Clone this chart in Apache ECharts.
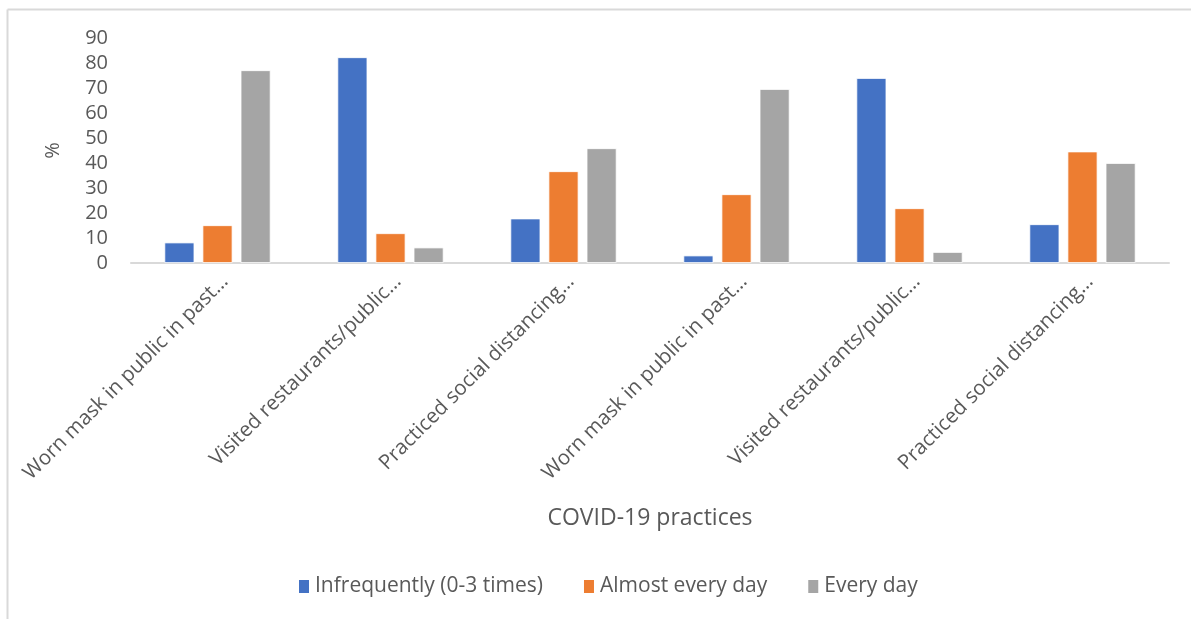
<!DOCTYPE html>
<html>
<head>
<meta charset="utf-8">
<script src="https://cdn.jsdelivr.net/npm/echarts@6/dist/echarts.min.js"></script>
<style>
  html, body { margin: 0; padding: 0; background: #fff; }
  #chart { width: 1191px; height: 619px; }
</style>
</head>
<body>
<div id="chart"></div>
<script>
// Category labels as they appear under the axis (long names are cut short)
const categories = [
  'Worn mask in public in past…',
  'Visited restaurants/public…',
  'Practiced social distancing…',
  'Worn mask in public in past…',
  'Visited restaurants/public…',
  'Practiced social distancing…'
];

// Share of respondents (%) for each frequency band
const infrequently = [8.2, 82.3, 17.8, 3.0, 74.0, 15.5];
const almostEveryDay = [15.1, 11.9, 36.7, 27.5, 21.9, 44.6];
const everyDay = [77.1, 6.2, 45.9, 69.6, 4.4, 40.0];

const seriesNames = ['Infrequently (0-3 times)', 'Almost every day', 'Every day'];
const seriesColors = ['#4472C4', '#ED7D31', '#A5A5A5'];
const yTicks = { min: 0, max: 90, interval: 10 };

const textColor = '#595959';
const fontFamily = '"Open Sans", Lato, sans-serif';

const chart = echarts.init(document.getElementById('chart'), null, { renderer: 'canvas' });

function barSeries(name, values, color) {
  return {
    name: name,
    type: 'bar',
    data: values,
    barWidth: 30,
    barGap: '27%',
    itemStyle: { color: color, borderColor: '#ffffff', borderWidth: 0.8 },
    emphasis: { disabled: true }
  };
}

chart.setOption({
  animation: false,
  backgroundColor: '#ffffff',
  color: seriesColors,
  textStyle: { fontFamily: fontFamily, color: textColor },
  graphic: [
    // chart frame (left and top edges)
    { type: 'line', shape: { x1: 7.5, y1: 9.5, x2: 1191, y2: 9.5 }, style: { stroke: '#d9d9d9', lineWidth: 2 } },
    { type: 'line', shape: { x1: 7.5, y1: 9.5, x2: 7.5, y2: 619 }, style: { stroke: '#d9d9d9', lineWidth: 2 } }
  ],
  grid: { left: 131, right: 22, top: 38, bottom: 356, containLabel: false },
  legend: {
    data: seriesNames,
    top: 571,
    left: 292,
    itemWidth: 12,
    itemHeight: 15,
    itemGap: 39,
    icon: 'rect',
    textStyle: { fontSize: 21, color: textColor, fontFamily: fontFamily }
  },
  xAxis: {
    type: 'category',
    data: categories,
    name: 'COVID-19 practices',
    nameLocation: 'middle',
    nameGap: 244,
    nameTextStyle: { fontSize: 23, color: textColor, fontFamily: fontFamily },
    axisLine: { lineStyle: { color: '#d9d9d9', width: 2 } },
    axisTick: { show: false },
    axisLabel: {
      interval: 0,
      rotate: 45,
      margin: 8,
      verticalAlign: 'top',
      fontSize: 20.5,
      color: textColor,
      fontFamily: fontFamily
    },
    splitLine: { show: false }
  },
  yAxis: {
    type: 'value',
    min: yTicks.min,
    max: yTicks.max,
    interval: yTicks.interval,
    name: '%',
    nameLocation: 'middle',
    nameGap: 68,
    nameRotate: 90,
    nameTextStyle: { fontSize: 20, color: textColor, fontFamily: fontFamily },
    axisLine: { show: false },
    axisTick: { show: false },
    splitLine: { show: false },
    axisLabel: { fontSize: 20, color: textColor, margin: 23, fontFamily: fontFamily }
  },
  series: [
    barSeries(seriesNames[0], infrequently, seriesColors[0]),
    barSeries(seriesNames[1], almostEveryDay, seriesColors[1]),
    barSeries(seriesNames[2], everyDay, seriesColors[2])
  ]
});
</script>
</body>
</html>
